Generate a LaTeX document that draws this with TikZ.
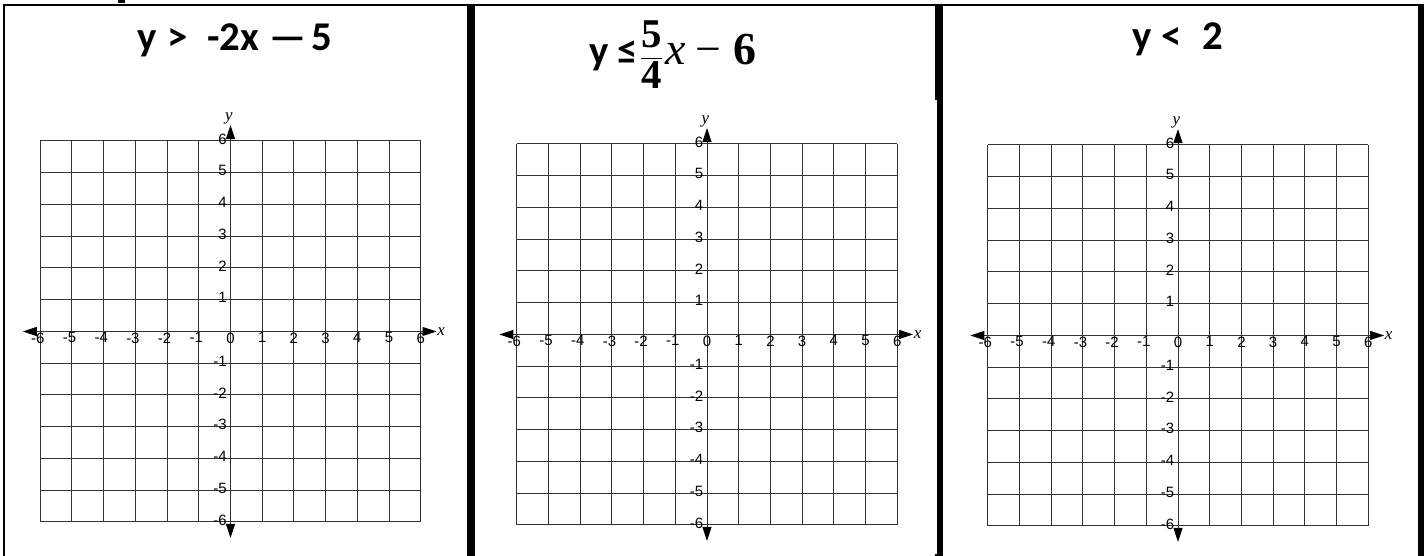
\documentclass[tikz,border=0pt]{standalone}
\usepackage{fontspec}
\usepackage{amsmath}
\setmainfont{Carlito}
\newfontfamily\axisfont{Liberation Sans}
\newfontfamily\varfont{Liberation Serif}
\usetikzlibrary{arrows.meta}

\newcommand{\eqonetext}{\rlap{y}\kern30bp\rlap{>}\kern40bp\rlap{-2x}\kern62bp\rlap{—}\kern42bp 5}
\newcommand{\eqtwotext}{y ≤\hspace{2bp}$\dfrac{\text{\varfont\bfseries 5}}{\text{\varfont\bfseries 4}}$\hspace{3bp}%
  {\fontsize{46}{46}\selectfont\varfont\mdseries\itshape x\hspace{9bp}\upshape −\hspace{12bp}\bfseries 6}}
\newcommand{\eqthreetext}{\rlap{y}\kern29bp\rlap{<}\kern41bp 2}

\tikzset{
  gridline/.style={black!80, line width=1bp},
  axisline/.style={black!80, line width=1bp,
    {Triangle[length=14bp,width=9bp,color=black]}-{Triangle[length=14bp,width=9bp,color=black]}},
  ticklbl/.style={font=\axisfont\fontsize{15}{15}\selectfont, inner sep=1bp},
  varlbl/.style={font=\varfont\itshape\fontsize{17}{17}\selectfont, inner sep=0.5bp},
  eqtitle/.style={font=\bfseries\fontsize{41}{41}\selectfont, inner sep=0pt},
  frameline/.style={line width=2bp}
}

\begin{document}
\begin{tikzpicture}[x=1bp,y=1bp]
  \useasboundingbox (0,0) rectangle (1424,556);
  % frame and separators
  \draw[frameline] (3,550.5) -- (1424,550.5);
  \draw[frameline] (4.3,551.5) -- (4.3,0);
  \fill (467,0) rectangle (475,551.5);
  \fill (937,0) rectangle (943,551.5);
  \fill (935,456) rectangle (937,551.5);
  \fill (935,0) rectangle (940,2);
  \fill (1418.3,0) rectangle (1424,551.5);
  \fill (118,553) rectangle (125,556);
  % titles
  \node[eqtitle, anchor=base west] (eq1) at (137,505) {\eqonetext};
  \node[eqtitle, anchor=base west] (eq2) at (589,491.5) {\eqtwotext};
  \node[eqtitle, anchor=base west] (eq3) at (1132,506) {\eqthreetext};
  \begin{scope}[shift={(230.5,224.5)}, x=31.7bp, y=31.75bp]
    \foreach \k in {-6,...,6} {
      \draw[gridline] (\k,-6) -- (\k,6);
      \draw[gridline] (-6,\k) -- (6,\k);
    }
    \draw[axisline] (-6.55,0) -- (6.5,0);
    \draw[axisline] (0,-6.5) -- (0,6.5);
    \node[varlbl, anchor=west] (p1x) at (6.5,0) {x};
    \node[varlbl, anchor=south] (p1y) at (-0.05,6.5) {y};
    \node[ticklbl, anchor=north] (p1t0) at (0,0) {0};
    \foreach \i in {1,...,6} {
      \node[ticklbl, anchor=north] (p1txp\i) at (\i,0) {\i};
      \node[ticklbl, anchor=north] (p1txn\i) at (-\i,0) {\llap{-}\i};
      \node[ticklbl, anchor=east, yshift=2bp] (p1typ\i) at (-0.08,\i) {\i};
      \node[ticklbl, anchor=east, yshift=2bp] (p1tyn\i) at (-0.08,-\i) {-\i};
    }
  \end{scope}
  \begin{scope}[shift={(707,221.5)}, x=31.7bp, y=31.75bp]
    \foreach \k in {-6,...,6} {
      \draw[gridline] (\k,-6) -- (\k,6);
      \draw[gridline] (-6,\k) -- (6,\k);
    }
    \draw[axisline] (-6.55,0) -- (6.5,0);
    \draw[axisline] (0,-6.5) -- (0,6.5);
    \node[varlbl, anchor=west] (p2x) at (6.5,0) {x};
    \node[varlbl, anchor=south] (p2y) at (-0.05,6.5) {y};
    \node[ticklbl, anchor=north] (p2t0) at (0,0) {0};
    \foreach \i in {1,...,6} {
      \node[ticklbl, anchor=north] (p2txp\i) at (\i,0) {\i};
      \node[ticklbl, anchor=north] (p2txn\i) at (-\i,0) {\llap{-}\i};
      \node[ticklbl, anchor=east, yshift=2bp] (p2typ\i) at (-0.08,\i) {\i};
      \node[ticklbl, anchor=east, yshift=2bp] (p2tyn\i) at (-0.08,-\i) {-\i};
    }
  \end{scope}
  \begin{scope}[shift={(1178,220.5)}, x=31.7bp, y=31.75bp]
    \foreach \k in {-6,...,6} {
      \draw[gridline] (\k,-6) -- (\k,6);
      \draw[gridline] (-6,\k) -- (6,\k);
    }
    \draw[axisline] (-6.55,0) -- (6.5,0);
    \draw[axisline] (0,-6.5) -- (0,6.5);
    \node[varlbl, anchor=west] (p3x) at (6.5,0) {x};
    \node[varlbl, anchor=south] (p3y) at (-0.05,6.5) {y};
    \node[ticklbl, anchor=north] (p3t0) at (0,0) {0};
    \foreach \i in {1,...,6} {
      \node[ticklbl, anchor=north] (p3txp\i) at (\i,0) {\i};
      \node[ticklbl, anchor=north] (p3txn\i) at (-\i,0) {\llap{-}\i};
      \node[ticklbl, anchor=east, yshift=2bp] (p3typ\i) at (-0.08,\i) {\i};
      \node[ticklbl, anchor=east, yshift=2bp] (p3tyn\i) at (-0.08,-\i) {-\i};
    }
  \end{scope}
\end{tikzpicture}
\end{document}
